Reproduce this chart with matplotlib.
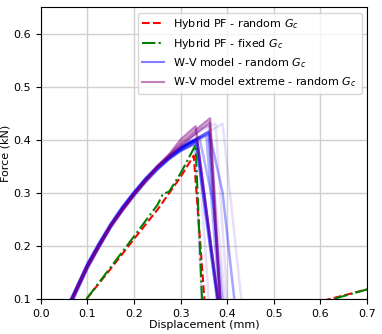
import numpy as np
import matplotlib
matplotlib.use('Agg')
from matplotlib import pyplot as plt

# Hybrid PF curves (displacement mm, force kN)
red_x = [0.098, 0.15, 0.2, 0.25, 0.3, 0.328, 0.356, 0.7]
red_f = [0.1, 0.157, 0.213, 0.268, 0.33, 0.37, 0.04, 0.118]
green_x = [0.098, 0.15, 0.2, 0.25, 0.262, 0.275, 0.3, 0.332, 0.349, 0.7]
green_f = [0.1, 0.16, 0.218, 0.277, 0.298, 0.302, 0.337, 0.39, 0.03, 0.118]

# W-V model, random Gc: shared pre-peak displacements, then peak and drop
pre_x = [0.1, 0.125, 0.15, 0.175, 0.2, 0.225, 0.25, 0.275, 0.3, 0.32]
blue_start = [0.065, 0.068, 0.066, 0.07, 0.067, 0.064, 0.069]
blue_pre = [
    [0.166, 0.205, 0.241, 0.273, 0.301, 0.327, 0.349, 0.368, 0.384, 0.393],
    [0.161, 0.2, 0.237, 0.269, 0.297, 0.323, 0.345, 0.364, 0.379, 0.388],
    [0.164, 0.203, 0.239, 0.271, 0.299, 0.325, 0.348, 0.367, 0.384, 0.395],
    [0.157, 0.197, 0.234, 0.266, 0.294, 0.32, 0.343, 0.363, 0.38, 0.392],
    [0.162, 0.201, 0.239, 0.271, 0.3, 0.326, 0.349, 0.369, 0.386, 0.396],
    [0.168, 0.207, 0.244, 0.276, 0.303, 0.329, 0.352, 0.371, 0.388, 0.395],
    [0.158, 0.198, 0.236, 0.268, 0.296, 0.322, 0.346, 0.366, 0.383, 0.395],
]
blue_post_x = [
    [0.335, 0.38],
    [0.333, 0.378],
    [0.36, 0.385],
    [0.362, 0.39, 0.415],
    [0.34, 0.37, 0.39],
    [0.33, 0.345],
    [0.355, 0.383],
]
blue_post_f = [
    [0.4, 0.1],
    [0.395, 0.1],
    [0.415, 0.1],
    [0.412, 0.3, 0.1],
    [0.405, 0.28, 0.1],
    [0.398, 0.1],
    [0.408, 0.1],
]
blue_alpha = [0.7, 0.6, 0.55, 0.35, 0.3, 0.15, 0.3]

# faint spread of the remaining realisations
faint_x = [
    [0.3, 0.34, 0.375, 0.4],
    [0.3, 0.33, 0.36, 0.395],
    [0.3, 0.35, 0.39, 0.43],
    [0.3, 0.325, 0.34, 0.36],
]
faint_f = [
    [0.385, 0.42, 0.43, 0.1],
    [0.39, 0.41, 0.425, 0.1],
    [0.384, 0.41, 0.43, 0.1],
    [0.38, 0.39, 0.36, 0.1],
]

# W-V model extreme, random Gc
purple_x = [
    [0.066, 0.1, 0.15, 0.2, 0.25, 0.275, 0.3, 0.332, 0.38],
    [0.068, 0.1, 0.15, 0.2, 0.25, 0.275, 0.3, 0.335, 0.363, 0.385],
    [0.067, 0.1, 0.15, 0.2, 0.25, 0.275, 0.3, 0.33, 0.362, 0.384],
]
purple_f = [
    [0.1, 0.163, 0.24, 0.298, 0.35, 0.372, 0.4, 0.425, 0.1],
    [0.1, 0.16, 0.237, 0.296, 0.348, 0.37, 0.393, 0.42, 0.44, 0.1],
    [0.1, 0.162, 0.238, 0.297, 0.349, 0.368, 0.388, 0.41, 0.432, 0.1],
]

fig = plt.figure(figsize=(3.82, 3.34), dpi=100)
ax = fig.add_axes([0.107, 0.105, 0.854, 0.874])

for x, f in zip(faint_x, faint_f):
    ax.plot(x, f, color='blue', alpha=0.07, lw=1.8)
    ax.plot(x, f, color='purple', alpha=0.05, lw=1.8)
for x0, pre, px, pf, a in zip(blue_start, blue_pre, blue_post_x, blue_post_f, blue_alpha):
    ax.plot([x0] + pre_x + px, [0.1] + pre + pf, color='blue', alpha=a, lw=1.8)
for x, f in zip(purple_x, purple_f):
    ax.plot(x, f, color='purple', alpha=0.5, lw=1.8)

ax.plot(red_x, red_f, 'r--', lw=1.5, label='Hybrid PF - random $G_c$')
ax.plot(green_x, green_f, 'g-.', lw=1.5, label='Hybrid PF - fixed $G_c$')
ax.plot([], [], color='blue', alpha=0.5, lw=1.5, label='W-V model - random $G_c$')
ax.plot([], [], color='purple', alpha=0.5, lw=1.5, label='W-V model extreme - random $G_c$')

ax.set_xlim(0, 0.7)
ax.set_ylim(0.1, 0.65)
ax.set_yticks([0.1, 0.2, 0.3, 0.4, 0.5, 0.6])
ax.grid(True, color='#d0d0d0', lw=1)
ax.tick_params(labelsize=8)
ax.set_xlabel('Displacement (mm)', fontsize=8, labelpad=1)
ax.set_ylabel('Force (kN)', fontsize=8, labelpad=2)
ax.legend(loc='upper right', fontsize=8)

fig.savefig('out.png', dpi=100)
